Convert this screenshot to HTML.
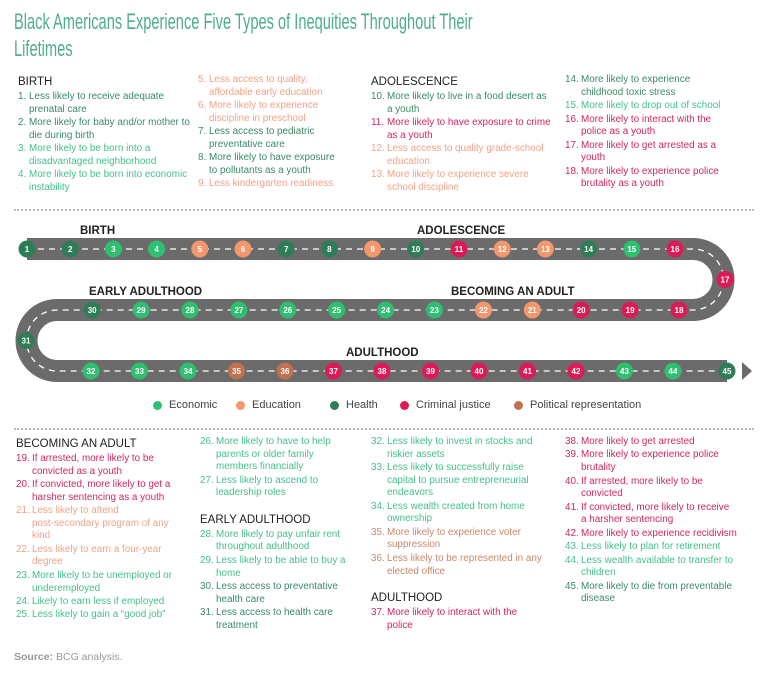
<!DOCTYPE html>
<html><head><meta charset="utf-8">
<style>
*{margin:0;padding:0;box-sizing:border-box}
body{width:768px;height:676px;background:#fff;font-family:"Liberation Sans",sans-serif;position:relative;overflow:hidden}
.title{position:absolute;left:14px;top:8px;font-family:"Liberation Sans Narrow","Liberation Sans",sans-serif;font-size:22px;line-height:27px;color:#4fae8a;width:700px;white-space:nowrap;transform:scaleX(0.665);transform-origin:0 0}
.col{position:absolute;font-size:9.9px;line-height:12.6px}
.col h3{font-size:11.5px;font-weight:normal;color:#222;line-height:14px;margin-bottom:2px}
.it{display:flex;margin-bottom:0.9px}
.it .n{flex:none}
.it.s .n{width:11px}.it.d .n{width:16px}
.H{color:#3b8a68}.E{color:#45c08a}.Ed{color:#f2a386}.C{color:#d2285c}.P{color:#c9886a}
.sep{position:absolute;left:14px;width:740px;border-top:2px dotted #bbb}
.leg{position:absolute;top:399px;font-size:11px;color:#444;display:flex;align-items:center}
.leg i{width:9px;height:9px;border-radius:50%;display:inline-block;margin-right:7px}
.src{position:absolute;left:14px;top:651px;font-size:10.5px;color:#999}
</style></head><body>
<div class="title">Black Americans Experience Five Types of Inequities Throughout Their<br>Lifetimes</div>

<div class="col" style="left:18px;top:75px;width:172px">
<h3>BIRTH</h3>
<div class="it s H"><span class="n">1.</span><span>Less likely to receive adequate prenatal care</span></div>
<div class="it s H"><span class="n">2.</span><span>More likely for baby and/or mother to die during birth</span></div>
<div class="it s E"><span class="n">3.</span><span>More likely to be born into a disadvantaged neighborhood</span></div>
<div class="it s E"><span class="n">4.</span><span>More likely to be born into economic instability</span></div>
</div>
<div class="col" style="left:198px;top:74px;width:142px">
<div class="it s Ed"><span class="n">5.</span><span>Less access to quality, affordable early education</span></div>
<div class="it s Ed"><span class="n">6.</span><span>More likely to experience discipline in preschool</span></div>
<div class="it s H"><span class="n">7.</span><span>Less access to pediatric preventative care</span></div>
<div class="it s H"><span class="n">8.</span><span>More likely to have exposure to pollutants as a youth</span></div>
<div class="it s Ed"><span class="n">9.</span><span>Less kindergarten readiness</span></div>
</div>
<div class="col" style="left:371px;top:75px;width:180px">
<h3>ADOLESCENCE</h3>
<div class="it d H"><span class="n">10.</span><span>More likely to live in a food desert as a youth</span></div>
<div class="it d C"><span class="n">11.</span><span>More likely to have exposure to crime as a youth</span></div>
<div class="it d Ed"><span class="n">12.</span><span>Less access to quality grade-school education</span></div>
<div class="it d Ed"><span class="n">13.</span><span>More likely to experience severe school discipline</span></div>
</div>
<div class="col" style="left:565px;top:74px;width:160px">
<div class="it d H"><span class="n">14.</span><span>More likely to experience childhood toxic stress</span></div>
<div class="it d E"><span class="n">15.</span><span>More likely to drop out of school</span></div>
<div class="it d C"><span class="n">16.</span><span>More likely to interact with the police as a youth</span></div>
<div class="it d C"><span class="n">17.</span><span>More likely to get arrested as a youth</span></div>
<div class="it d C"><span class="n">18.</span><span>More likely to experience police brutality as a youth</span></div>
</div>

<div class="sep" style="top:209px"></div>

<svg id="road" width="768" height="400" style="position:absolute;left:0;top:0"></svg>

<div class="leg" style="left:153px"><i style="background:#2fbf71"></i>Economic</div>
<div class="leg" style="left:236px"><i style="background:#f4976c"></i>Education</div>
<div class="leg" style="left:330px"><i style="background:#2e7d57"></i>Health</div>
<div class="leg" style="left:400px"><i style="background:#dc1a55"></i>Criminal justice</div>
<div class="leg" style="left:514px"><i style="background:#c0714f"></i>Political representation</div>

<div class="sep" style="top:428px"></div>

<div class="col" style="left:16px;top:437px;width:172px">
<h3>BECOMING AN ADULT</h3>
<div class="it d C"><span class="n">19.</span><span>If arrested, more likely to be convicted as a youth</span></div>
<div class="it d C"><span class="n">20.</span><span>If convicted, more likely to get a harsher sentencing as a youth</span></div>
<div class="it d Ed"><span class="n">21.</span><span>Less likely to attend<br>post-secondary program of any kind</span></div>
<div class="it d Ed"><span class="n">22.</span><span>Less likely to earn a four-year degree</span></div>
<div class="it d E"><span class="n">23.</span><span>More likely to be unemployed or underemployed</span></div>
<div class="it d E"><span class="n">24.</span><span>Likely to earn less if employed</span></div>
<div class="it d E"><span class="n">25.</span><span>Less likely to gain a “good job”</span></div>
</div>
<div class="col" style="left:200px;top:436px;width:148px">
<div class="it d E"><span class="n">26.</span><span>More likely to have to help parents or older family members financially</span></div>
<div class="it d E"><span class="n">27.</span><span>Less likely to ascend to leadership roles</span></div>
<h3 style="margin-top:13px">EARLY ADULTHOOD</h3>
<div class="it d E"><span class="n">28.</span><span>More likely to pay unfair rent throughout adulthood</span></div>
<div class="it d E"><span class="n">29.</span><span>Less likely to be able to buy a home</span></div>
<div class="it d H"><span class="n">30.</span><span>Less access to preventative health care</span></div>
<div class="it d H"><span class="n">31.</span><span>Less access to health care treatment</span></div>
</div>
<div class="col" style="left:371px;top:436px;width:180px">
<div class="it d E"><span class="n">32.</span><span>Less likely to invest in stocks and riskier assets</span></div>
<div class="it d E"><span class="n">33.</span><span>Less likely to successfully raise capital to pursue entrepreneurial endeavors</span></div>
<div class="it d E"><span class="n">34.</span><span>Less wealth created from home ownership</span></div>
<div class="it d P"><span class="n">35.</span><span>More likely to experience voter suppression</span></div>
<div class="it d P"><span class="n">36.</span><span>Less likely to be represented in any elected office</span></div>
<h3 style="margin-top:13px">ADULTHOOD</h3>
<div class="it d C"><span class="n">37.</span><span>More likely to interact with the<br>police</span></div>
</div>
<div class="col" style="left:565px;top:436px;width:172px">
<div class="it d C"><span class="n">38.</span><span>More likely to get arrested</span></div>
<div class="it d C"><span class="n">39.</span><span>More likely to experience police brutality</span></div>
<div class="it d C"><span class="n">40.</span><span>If arrested, more likely to be convicted</span></div>
<div class="it d C"><span class="n">41.</span><span>If convicted, more likely to receive a harsher sentencing</span></div>
<div class="it d C"><span class="n">42.</span><span>More likely to experience recidivism</span></div>
<div class="it d E"><span class="n">43.</span><span>Less likely to plan for retirement</span></div>
<div class="it d E"><span class="n">44.</span><span>Less wealth available to transfer to children</span></div>
<div class="it d H"><span class="n">45.</span><span>More likely to die from preventable disease</span></div>
</div>

<div class="src"><b>Source:</b> BCG analysis.</div>

<script>
const stops = [1,2,3,4,5,6,7,8,9,10,11,12,13,14,15,16,17,18,19,20,21,22,23,24,25,26,27,28,29,30,31,32,33,34,35,36,37,38,39,40,41,42,43,44,45];
const categories = ["H","H","E","E","Ed","Ed","H","H","Ed","H","C","Ed","Ed","H","E","C","C","C","C","C","Ed","Ed","E","E","E","E","E","E","E","H","H","E","E","E","P","P","C","C","C","C","C","C","E","E","H"];
const colors = {E:"#2fbf71",Ed:"#f4976c",H:"#2e7d57",C:"#dc1a55",P:"#c0714f"};
const stageLabels = ["BIRTH","ADOLESCENCE","EARLY ADULTHOOD","BECOMING AN ADULT","ADULTHOOD"];

const NS="http://www.w3.org/2000/svg";
const svg=document.getElementById('road');
function mk(t,a){const e=document.createElementNS(NS,t);for(const k in a)e.setAttribute(k,a[k]);svg.appendChild(e);return e;}
const rowY=[249,310,371];
function pos(n){
  if(n<=16) return [27+(n-1)*43.2,rowY[0]];
  if(n===17) return [725,279.5];
  if(n<=30) return [679-(n-18)*48.9,rowY[1]];
  if(n===31) return [26,340.5];
  if(n<=44) return [91+(n-32)*48.5,rowY[2]];
  return [727,rowY[2]];
}
const d="M27,249 H693 A30.5,30.5 0 0 1 693,310 H57 A30.5,30.5 0 0 0 57,371 H727";
const road=mk('path',{d:d,fill:'none',stroke:'#6b6b6b','stroke-width':22});


const lane=mk('path',{d:d,fill:'none',stroke:'#fff','stroke-width':1.3,'stroke-dasharray':'6 5'});


const arrow=mk('polygon',{points:'742,362 752,371 742,380',fill:'#6b6b6b'});


const labelPos=[[80,234],[417,234],[89,295],[451,295],[346,356]];
stageLabels.forEach((s,i)=>{
  const t=mk('text',{x:labelPos[i][0],y:labelPos[i][1],'font-size':11.5,'font-weight':'bold','font-family':'Liberation Sans, sans-serif',fill:'#222'});
  t.textContent=s;
  
  
});
stops.forEach((n,i)=>{
  const [x,y]=pos(n);
  const c=mk('circle',{cx:x,cy:y,r:8.5,fill:colors[categories[i]]});
  
  
  const t=mk('text',{x:x,y:y+3,'font-size':8,'font-weight':'bold','text-anchor':'middle','font-family':'Liberation Sans, sans-serif',fill:'#fff'});
  t.textContent=n;
  
  
});
</script>
</body></html>
